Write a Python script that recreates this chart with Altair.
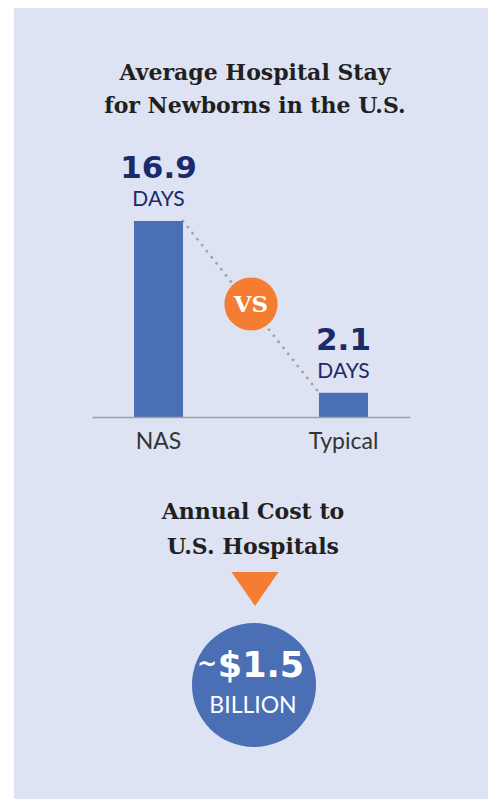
import altair as alt
import pandas as pd

# ---- data ----
categories = ["NAS", "Typical"]
stay_days = [16.9, 2.1]
unit_labels = ["DAYS", "DAYS"]
title_lines = ["Average Hospital Stay", "for Newborns in the U.S."]
cost_lines = ["Annual Cost to", "U.S. Hospitals"]
cost_value = ["$1.5"]
cost_unit = ["BILLION"]
vs_label = ["VS"]

# ---- style ----
W, H = 480, 791
BG = "#dde3f2"
BLUE = "#4a6fb5"
ORANGE = "#f47d32"
NAVY = "#1b2a6b"
INK = "#231f20"
SANS = "Lato"
NUMF = "DejaVu Sans"
SLAB = "DejaVu Serif"

AXIS_Y = 409
bars_df = pd.DataFrame({
    "cat": categories,
    "days": stay_days,
    "label": [f"{v:g}" for v in stay_days],
    "unit": unit_labels,
})
conn_df = pd.DataFrame({"a": [categories[0]], "b": [categories[1]],
                        "va": [stay_days[0]], "vb": [stay_days[1]]})

x_scale = alt.Scale(type="band", domain=categories, range=[84, 402],
                    paddingInner=0.735, paddingOuter=0.227)
x_axis = alt.Axis(title=None, offset=AXIS_Y - H, domainColor="#a0a0a0", domainWidth=1.5,
                  ticks=False, grid=False, labelAngle=0, labelFont=SANS, labelFontSize=23,
                  labelColor="#333333", labelPadding=31, labelBaseline="alphabetic", zindex=1)
x_enc = alt.X("cat:N", scale=x_scale, axis=x_axis)
y_scale = alt.Scale(domain=[0, max(stay_days)], range=[AXIS_Y, 213], nice=False)
y_enc = alt.Y("days:Q", scale=y_scale, axis=None)

one = pd.DataFrame({"k": [0]})

panel = alt.Chart(one).mark_rect(color=BG).encode(
    x=alt.value(6), x2=alt.value(W), y=alt.value(0), y2=alt.value(H))

title_df = pd.DataFrame({"t": title_lines, "i": [0, 1]})
title = alt.Chart(title_df).mark_text(font=SLAB, fontWeight="bold", fontSize=22, color=INK,
                                      baseline="alphabetic", align="center").encode(
    x=alt.value(247),
    y=alt.Y("i:Q", scale=alt.Scale(domain=[0, 1], range=[72, 105]), axis=None),
    text="t:N")

bars = alt.Chart(bars_df).mark_bar(color=BLUE).encode(x=x_enc, y=y_enc)

connector = alt.Chart(conn_df).mark_rule(color="#a3a3a3", strokeWidth=2.8, strokeDash=[0.1, 7.6],
                                         strokeCap="round").encode(
    x=alt.X("a:N", scale=x_scale, axis=x_axis, bandPosition=1),
    x2=alt.X2("b:N", bandPosition=0),
    y=alt.Y("va:Q", scale=y_scale, axis=None),
    y2=alt.Y2("vb:Q"))

num_text = alt.Chart(bars_df).mark_text(font=NUMF, fontWeight="bold", fontSize=31, color=NAVY,
                                        baseline="alphabetic", dy=-43).encode(
    x=x_enc, y=y_enc, text="label:N")
unit_text = alt.Chart(bars_df).mark_text(font=SANS, fontSize=21, color=NAVY,
                                         baseline="alphabetic", dy=-15).encode(
    x=x_enc, y=y_enc, text="unit:N")

vs_df = pd.DataFrame({"t": vs_label})
vs_circle = alt.Chart(vs_df).mark_circle(size=2827, color=ORANGE, opacity=1).encode(
    x=alt.value(243), y=alt.value(296))
vs_text = alt.Chart(vs_df).mark_text(font=SLAB, fontWeight="bold", fontSize=23, color="white",
                                     baseline="middle").encode(
    x=alt.value(243), y=alt.value(297), text="t:N")

cost_df = pd.DataFrame({"t": cost_lines, "i": [0, 1]})
cost_title = alt.Chart(cost_df).mark_text(font=SLAB, fontWeight="bold", fontSize=22, color=INK,
                                          baseline="alphabetic").encode(
    x=alt.value(245),
    y=alt.Y("i:Q", scale=alt.Scale(domain=[0, 1], range=[511, 546]), axis=None),
    text="t:N")

arrow = alt.Chart(one).mark_point(shape="M-1,-0.72L1,-0.72L0,0.72Z", size=2209, filled=True,
                                  color=ORANGE, opacity=1, strokeWidth=0).encode(
    x=alt.value(247), y=alt.value(581))

big_circle = alt.Chart(one).mark_circle(size=15394, color=BLUE, opacity=1).encode(
    x=alt.value(246), y=alt.value(677))

val_df = pd.DataFrame({"t": cost_value})
cost_num = alt.Chart(val_df).mark_text(font=NUMF, fontWeight="bold", fontSize=35, color="white",
                                       baseline="alphabetic").encode(
    x=alt.value(253), y=alt.value(669), text="t:N")
tilde = alt.Chart(one).mark_text(font=NUMF, fontWeight="bold", fontSize=24, color="white",
                                 baseline="middle", text="~").encode(
    x=alt.value(199), y=alt.value(657))
unit_df = pd.DataFrame({"t": cost_unit})
cost_unit_text = alt.Chart(unit_df).mark_text(font=SANS, fontSize=23, color="white",
                                              baseline="alphabetic").encode(
    x=alt.value(245), y=alt.value(705), text="t:N")

chart = alt.layer(
    panel, title, connector, bars, num_text, unit_text, vs_circle, vs_text,
    cost_title, arrow, big_circle, cost_num, tilde, cost_unit_text,
).resolve_scale(y="independent").properties(
    width=W, height=H, background="white", padding=0, autosize="none",
).configure_view(stroke=None)

chart.save("out.html", embed_options={"renderer": "svg", "actions": False})
